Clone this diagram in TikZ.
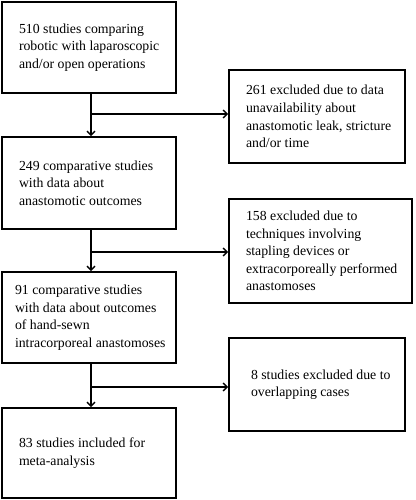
\documentclass[tikz,border=0pt]{standalone}
\usepackage{fontspec}
\setmainfont{Liberation Serif}
\usetikzlibrary{arrows.meta}
\newcommand{\boxtext}[3]{\hspace*{#1}\parbox{\dimexpr#2-#1\relax}{\raggedright #3}}
\begin{document}
\begin{tikzpicture}[x=1pt,y=-1pt,
  box/.style={draw, line width=1.8pt, rectangle, inner ysep=0pt, inner xsep=0pt,
    font=\fontsize{13.8}{17.6}\selectfont},
  lbox/.style={box, minimum width=174pt},
  rbox/.style={box, minimum width=176pt},
  conn/.style={line width=1.4pt},
  arr/.style={conn, -{Straight Barb[length=4pt,width=8pt,line width=1.4pt]}}]
\useasboundingbox (0,0) rectangle (415,500);
\node[lbox, minimum height=91pt] (b1) at (89,47.5)
  {\boxtext{17pt}{174pt}{510 studies comparing\\robotic with laparoscopic\\and/or open operations}};
\node[rbox, minimum height=93pt] (b2) at (317,116.5)
  {\boxtext{17pt}{176pt}{261 excluded due to data\\unavailability about\\anastomotic leak, stricture\\and/or time}};
\node[lbox, minimum height=92pt] (b3) at (89,183)
  {\boxtext{17pt}{174pt}{249 comparative studies\\with data about\\anastomotic outcomes}};
\node[box, minimum width=183pt, minimum height=104pt] (b4) at (320.5,251)
  {\boxtext{17pt}{183pt}{158 excluded due to\\techniques involving\\stapling devices or\\extracorporeally performed\\anastomoses}};
\node[lbox, minimum height=91pt] (b5) at (89,317.5)
  {\boxtext{13pt}{174pt}{91 comparative studies\\with data about outcomes\\of hand-sewn\\intracorporeal anastomoses}};
\node[rbox, minimum height=93pt] (b6) at (317,384.5)
  {\boxtext{22pt}{176pt}{8 studies excluded due to\\overlapping cases}};
\node[lbox, minimum height=90pt] (b7) at (89,453)
  {\boxtext{17pt}{174pt}{83 studies included for\\meta-analysis}};
% vertical flow
\draw[arr] ([xshift=2pt]b1.south) -- ([xshift=2pt]b3.north);
\draw[arr] ([xshift=2pt]b3.south) -- ([xshift=2pt]b5.north);
\draw[arr] ([xshift=2pt]b5.south) -- ([xshift=2pt]b7.north);
% branches
\coordinate (j1) at (91,114);
\coordinate (j2) at (91,252);
\coordinate (j3) at (91,387);
\draw[arr] (j1) -- (j1 -| b2.west);
\draw[arr] (j2) -- (j2 -| b4.west);
\draw[arr] (j3) -- (j3 -| b6.west);
\end{tikzpicture}
\end{document}
